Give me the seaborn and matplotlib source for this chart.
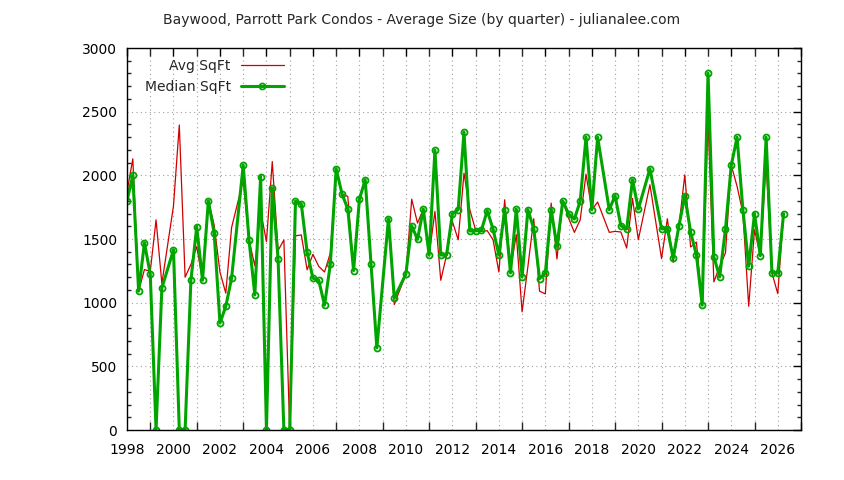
import matplotlib
matplotlib.use("Agg")
import matplotlib.pyplot as plt
import matplotlib.ticker as mticker
import pandas as pd
import seaborn as sns

# quarter positions (decimal year); quarters with no sales are simply absent
quarters = [
    1998.00, 1998.25, 1998.50, 1998.75, 1999.00, 1999.25, 1999.50,
    2000.00, 2000.25, 2000.50, 2000.75, 2001.00, 2001.25, 2001.50, 2001.75,
    2002.00, 2002.25, 2002.50, 2003.00, 2003.25, 2003.50, 2003.75,
    2004.00, 2004.25, 2004.50, 2004.75, 2005.00, 2005.25, 2005.50, 2005.75,
    2006.00, 2006.25, 2006.50, 2006.75, 2007.00, 2007.25, 2007.50, 2007.75,
    2008.00, 2008.25, 2008.50, 2008.75, 2009.25, 2009.50,
    2010.00, 2010.25, 2010.50, 2010.75, 2011.00, 2011.25, 2011.50, 2011.75,
    2012.00, 2012.25, 2012.50, 2012.75, 2013.00, 2013.25, 2013.50, 2013.75,
    2014.00, 2014.25, 2014.50, 2014.75, 2015.00, 2015.25, 2015.50, 2015.75,
    2016.00, 2016.25, 2016.50, 2016.75, 2017.00, 2017.25, 2017.50, 2017.75,
    2018.00, 2018.25, 2018.75, 2019.00, 2019.25, 2019.50, 2019.75,
    2020.00, 2020.50, 2021.00, 2021.25, 2021.50, 2021.75,
    2022.00, 2022.25, 2022.50, 2022.75, 2023.00, 2023.25, 2023.50, 2023.75,
    2024.00, 2024.25, 2024.50, 2024.75, 2025.00, 2025.25, 2025.50, 2025.75,
    2026.00, 2026.25,
]

avg_sqft = [
    1870, 2130, 1090, 1260, 1245, 1650, 1150,
    1760, 2395, 1200, 1300, 1440, 1176, 1800, 1610,
    1240, 1075, 1590, 1960, 1492, 1290, 1720,
    1480, 2108, 1410, 1492, 0, 1525, 1532, 1258,
    1380, 1285, 1241, 1390, 2051, 1855, 1834, 1252,
    1813, 1965, 1304, 645, 1659, 985,
    1225, 1813, 1625, 1735, 1374, 1717, 1176, 1374,
    1638, 1494, 2017, 1730, 1570, 1560, 1565, 1494,
    1241, 1808, 1260, 1534, 928, 1285, 1659, 1090,
    1069, 1782, 1343, 1798, 1664, 1552, 1651, 2009,
    1730, 1790, 1552, 1560, 1555, 1429, 1819,
    1494, 1926, 1346, 1659, 1317, 1604,
    2004, 1437, 1476, 980, 2435, 1163, 1285, 1390,
    2080, 1913, 1704, 972, 1573, 1369, 2096, 1233,
    1071, 1698,
]

median_sqft = [
    1800, 2000, 1090, 1470, 1225, 0, 1115,
    1415, 0, 0, 1176, 1595, 1176, 1800, 1547,
    840, 970, 1192, 2080, 1492, 1060, 1990,
    0, 1900, 1345, 0, 0, 1798, 1775, 1398,
    1192, 1176, 980, 1304, 2051, 1855, 1735, 1252,
    1813, 1965, 1304, 645, 1659, 1037,
    1225, 1604, 1497, 1735, 1374, 2197, 1374, 1374,
    1698, 1730, 2339, 1563, 1563, 1570, 1722, 1578,
    1374, 1730, 1233, 1735, 1202, 1730, 1581, 1189,
    1233, 1730, 1442, 1798, 1698, 1657, 1798, 2299,
    1730, 2299, 1730, 1840, 1604, 1578, 1965,
    1735, 2051, 1581, 1581, 1351, 1604,
    1840, 1555, 1374, 980, 2801, 1361, 1202, 1578,
    2080, 2299, 1730, 1286, 1698, 1369, 2299, 1233,
    1233, 1698,
]

df = pd.DataFrame({"quarter": quarters, "avg": avg_sqft, "median": median_sqft})

sns.set_style("white")
plt.rcParams["font.family"] = ["DejaVu Sans"]
plt.rcParams["font.size"] = 10

fig = plt.figure(figsize=(8.44, 4.8), dpi=100)
ax = fig.add_axes([127 / 844, 1 - 430 / 480, (801 - 127) / 844, (430 - 48) / 480])

sns.lineplot(data=df, x="quarter", y="avg", ax=ax, color="#d00000",
             linewidth=0.9, label="Avg SqFt", sort=True)
sns.lineplot(data=df, x="quarter", y="median", ax=ax, color="#00a500",
             linewidth=2.2, marker="o", markersize=4.3, markerfacecolor="none",
             markeredgecolor="#00a500", markeredgewidth=1.3,
             label="Median SqFt", sort=True)

ax.set_xlim(1998, 2027)
ax.set_ylim(0, 3000)
ax.xaxis.set_major_locator(mticker.MultipleLocator(2))
ax.xaxis.set_minor_locator(mticker.MultipleLocator(1))
ax.yaxis.set_major_locator(mticker.MultipleLocator(500))
ax.yaxis.set_minor_locator(mticker.MultipleLocator(100))
ax.set_xlabel("")
ax.set_ylabel("")

ax.tick_params(which="major", direction="in", length=6, width=1,
               top=True, right=True, labelsize=10, colors="black")
ax.tick_params(axis="x", which="minor", direction="in", length=6, width=1,
               top=True, bottom=True)
ax.tick_params(axis="y", which="minor", direction="in", length=3, width=1,
               left=True, right=True)
ax.tick_params(axis="x", pad=9)
ax.tick_params(axis="y", pad=7)

ax.grid(True, which="major", axis="y", color="#a0a0a0", linestyle=(0, (1, 3)), linewidth=0.8)
ax.grid(True, which="both", axis="x", color="#a0a0a0", linestyle=(0, (1, 3)), linewidth=0.8)
for spine in ax.spines.values():
    spine.set_color("black")
    spine.set_linewidth(1)
    spine.set_visible(True)

ax.legend(loc="upper left", bbox_to_anchor=(0.018, 0.985), frameon=False,
          markerfirst=False, handlelength=3.1, handletextpad=0.7,
          labelspacing=0.45, borderaxespad=0, fontsize=10)

fig.text(0.5, 1 - 20 / 480, "Baywood, Parrott Park Condos - Average Size (by quarter) - julianalee.com",
         ha="center", va="center", fontsize=10)

fig.savefig("out.png", dpi=100)
